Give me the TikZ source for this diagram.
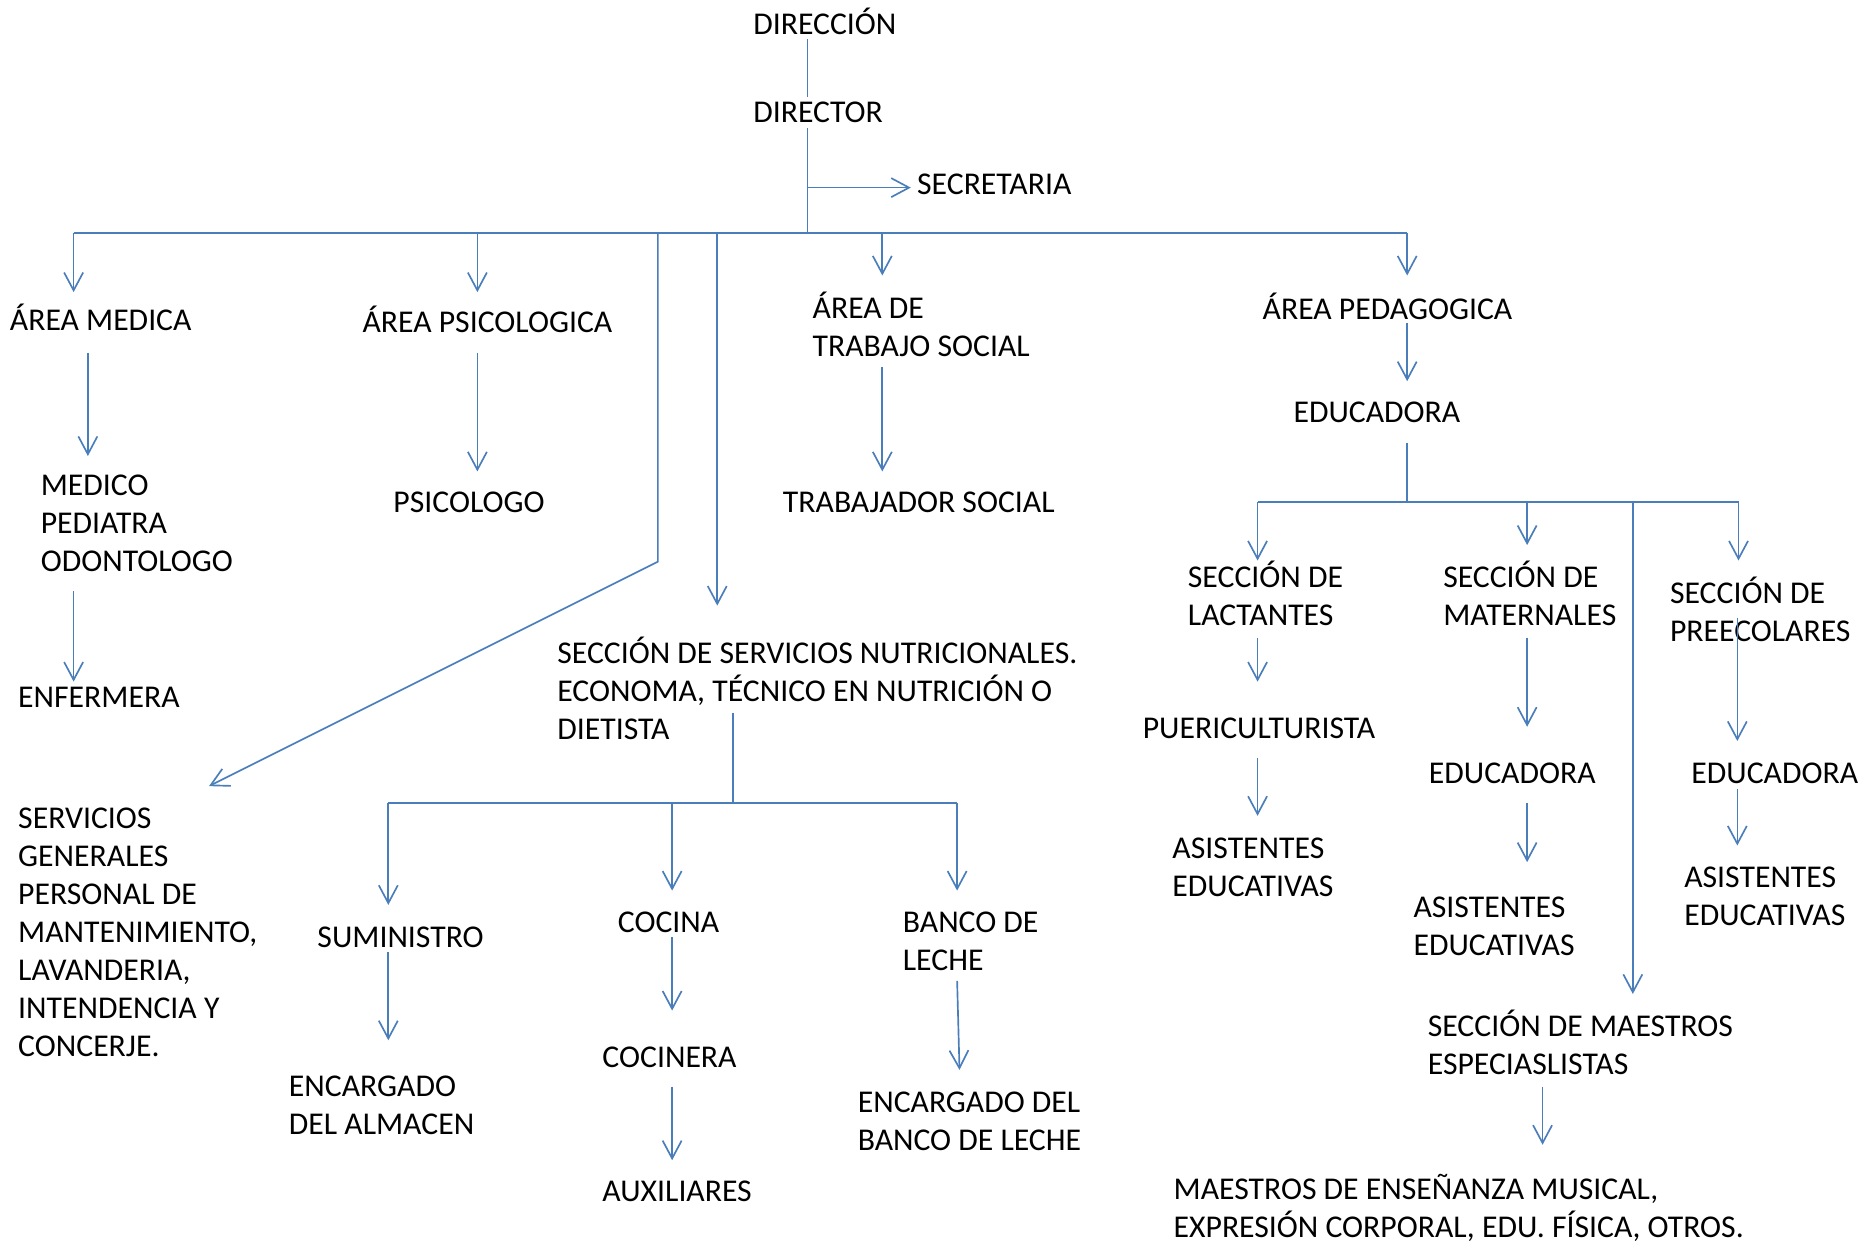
\documentclass[tikz,border=0pt]{standalone}
\usepackage{fontspec}
\setmainfont{Carlito}
\usetikzlibrary{arrows.meta}
\definecolor{orgblue}{RGB}{74,126,187}

\begin{document}
\begin{tikzpicture}[x=0.02cm,y=-0.02cm,
		txt/.style={anchor=west,inner sep=0pt,align=left,font=\fontsize{15.2}{18.2}\selectfont},
		ln/.style={orgblue,line width=0.8pt},
		arr/.style={ln,-{Straight Barb[length=0.3cm,width=0.32cm]}}]
		\useasboundingbox (0,0) rectangle (1568,1048);
		% direccion
		\node [txt] (dircn) at (634,18) {DIRECCIÓN};
		\node [txt] (dirtr) at (634,95) {DIRECTOR};
		\node [txt] (secr) at (772,155) {SECRETARIA};
		% areas
		\node [txt] (amed) at (8,267) {ÁREA MEDICA};
		\node [txt] (apsi) at (305,269) {ÁREA PSICOLOGICA};
		\node [txt] (atra) at (684,273) {ÁREA DE\\TRABAJO SOCIAL};
		\node [txt] (aped) at (1063,258) {ÁREA PEDAGOGICA};
		\node [txt] (medi) at (34,441) {MEDICO\\PEDIATRA\\ODONTOLOGO};
		\node [txt] (enfe) at (15,587) {ENFERMERA};
		\node [txt] (psic) at (331,423) {PSICOLOGO};
		\node [txt] (tsoc) at (659,423) {TRABAJADOR SOCIAL};
		\node [txt] (serv) at (15,785) {SERVICIOS\\GENERALES\\PERSONAL DE\\MANTENIMIENTO,\\LAVANDERIA,\\INTENDENCIA Y\\CONCERJE.};
		% nutricion
		\node [txt] (nutr) at (469,580) {SECCIÓN DE SERVICIOS NUTRICIONALES.\\ECONOMA, TÉCNICO EN NUTRICIÓN O\\DIETISTA};
		\node [txt] (sumi) at (267,789) {SUMINISTRO};
		\node [txt] (alma) at (243,931) {ENCARGADO\\DEL ALMACEN};
		\node [txt] (coci) at (520,777) {COCINA};
		\node [txt] (cocn) at (507,890) {COCINERA};
		\node [txt] (auxi) at (507,1003) {AUXILIARES};
		\node [txt] (banc) at (760,793) {BANCO DE\\LECHE};
		\node [txt] (encb) at (722,944) {ENCARGADO DEL\\BANCO DE LECHE};
		% pedagogia
		\node [txt] (educ) at (1089,347) {EDUCADORA};
		\node [txt] (lact) at (1000,500) {SECCIÓN DE\\LACTANTES};
		\node [txt] (mate) at (1215,500) {SECCIÓN DE\\MATERNALES};
		\node [txt] (pree) at (1406,513) {SECCIÓN DE\\PREECOLARES};
		\node [txt] (puer) at (962,613) {PUERICULTURISTA};
		\node [txt] (asia) at (987,730) {ASISTENTES\\EDUCATIVAS};
		\node [txt] (edub) at (1203,651) {EDUCADORA};
		\node [txt] (asib) at (1190,780) {ASISTENTES\\EDUCATIVAS};
		\node [txt] (educc) at (1424,651) {EDUCADORA};
		\node [txt] (asic) at (1418,755) {ASISTENTES\\EDUCATIVAS};
		\node [txt] (maes) at (1202,878) {SECCIÓN DE MAESTROS\\ESPECIASLISTAS};
		\node [txt] (musi) at (988,1017) {MAESTROS DE ENSEÑANZA MUSICAL,\\EXPRESIÓN CORPORAL, EDU. FÍSICA, OTROS.};
		% junctions
		\coordinate (top) at (680,196);
		\coordinate (nut) at (617,676);
		\coordinate (ped) at (1185,423);
		% lines
		\draw [ln] (680,33) -- (680,82);
		\draw [ln] (680,108) -- (top);
		\draw [ln] (62,196) -- (1185,196);
		\draw [ln] (617,600) -- (nut);
		\draw [ln] (327,676) -- (806,676);
		\draw [ln] (1185,373) -- (ped);
		\draw [ln] (1059,423) -- (1464,423);
		\draw [arr] (554,196) -- (554,473) -- (176,662);
		\draw [arr] (680,158) -- (767,158);
		% arrows down
		\foreach \x/\a/\b in {62/196/246, 402/196/246, 604/196/510, 743/196/232, 1185/196/232,
				74/297/384, 402/297/397, 743/309/397, 62/498/574, 1185/272/321,
				327/676/762, 566/676/750, 806/676/750, 327/802/876, 566/789/851, 566/915/977,
				1059/423/472, 1286/423/459, 1375/423/837, 1464/423/472,
				1059/537/574, 1059/638/687, 1286/537/612, 1286/676/726,
				1463/520/624, 1463/664/712, 1299/915/964}
			\draw [arr] (\x,\a) -- (\x,\b);
		\draw [arr] (806,826) -- (808,901);
	\end{tikzpicture}
\end{document}
